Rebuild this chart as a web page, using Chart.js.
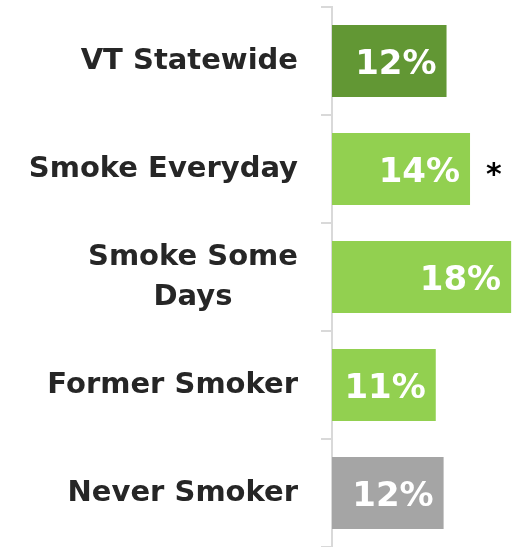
<!DOCTYPE html>
<html>
<head>
<meta charset="utf-8">
<script src="https://cdn.jsdelivr.net/npm/chart.js@4"></script>
<style>
  html, body { margin: 0; padding: 0; background: #fff; }
  #wrap { width: 518px; height: 547px; }
</style>
</head>
<body>
<div id="wrap"><canvas id="smokeChart"></canvas></div>
<script>
// categories (multi-line label as array)
const categories = ['VT Statewide', 'Smoke Everyday', ['Smoke Some', 'Days'], 'Former Smoker', 'Never Smoker'];
const percentValues = [11.7, 14.1, 18.3, 10.6, 11.4];
const valueLabels = ['12%', '14%', '18%', '11%', '12%'];
const sigMarks = ['', '*', '', '', ''];
const barColors = ['#629734', '#92D050', '#92D050', '#92D050', '#A5A5A5'];

const labelFont = 'bold 29px "DejaVu Sans"';

// draws the category names left of the axis (right aligned block, centred lines)
const categoryLabels = {
    id: 'categoryLabels',
    afterDraw(chart) {
        const ctx = chart.ctx;
        const yScale = chart.scales.y;
        const right = yScale.right - 34;
        ctx.save();
        ctx.font = labelFont;
        ctx.fillStyle = '#262626';
        ctx.textAlign = 'center';
        ctx.textBaseline = 'middle';
        categories.forEach((cat, i) => {
            const lines = Array.isArray(cat) ? cat : [cat];
            const widest = Math.max(...lines.map(l => ctx.measureText(l).width));
            const cx = right - widest / 2;
            const lineH = 40;
            const y0 = yScale.getPixelForTick(i) - (lines.length - 1) * lineH / 2;
            lines.forEach((l, j) => ctx.fillText(l, cx, y0 + j * lineH));
        });
        ctx.restore();
    }
};

// value text inside the bars plus the significance asterisk
const valueText = {
    id: 'valueText',
    afterDatasetsDraw(chart) {
        const ctx = chart.ctx;
        const meta = chart.getDatasetMeta(0);
        ctx.save();
        ctx.textBaseline = 'middle';
        meta.data.forEach((bar, i) => {
            ctx.font = 'bold 34px "DejaVu Sans"';
            ctx.fillStyle = '#ffffff';
            ctx.textAlign = 'right';
            ctx.fillText(valueLabels[i], bar.x - 10, bar.y + 4);
            if (sigMarks[i]) {
                ctx.font = 'bold 30px "DejaVu Sans"';
                ctx.fillStyle = '#000000';
                ctx.textAlign = 'left';
                ctx.fillText(sigMarks[i], bar.x + 16, bar.y + 7);
            }
        });
        ctx.restore();
    }
};

new Chart(document.getElementById('smokeChart'), {
    type: 'bar',
    data: {
        labels: categories,
        datasets: [{
            data: percentValues,
            backgroundColor: barColors,
            borderWidth: 0,
            barPercentage: 0.667,
            categoryPercentage: 1
        }]
    },
    options: {
        indexAxis: 'y',
        responsive: true,
        maintainAspectRatio: false,
        animation: false,
        layout: { padding: { top: 7, right: 0, bottom: 0, left: 0 } },
        plugins: {
            legend: { display: false },
            tooltip: { enabled: false }
        },
        scales: {
            x: {
                display: false,
                min: 0,
                max: 19
            },
            y: {
                afterFit: s => { s.width = 332; },
                ticks: { display: false },
                grid: {
                    offset: true,
                    drawOnChartArea: false,
                    drawTicks: true,
                    tickLength: 11,
                    // bottom boundary falls just off the picture in the original
                    color: c => c.index === categories.length ? 'rgba(0,0,0,0)' : '#D9D9D9',
                    lineWidth: 2
                },
                border: { display: true, color: '#D9D9D9', width: 2 }
            }
        }
    },
    plugins: [categoryLabels, valueText]
});
</script>
</body>
</html>
